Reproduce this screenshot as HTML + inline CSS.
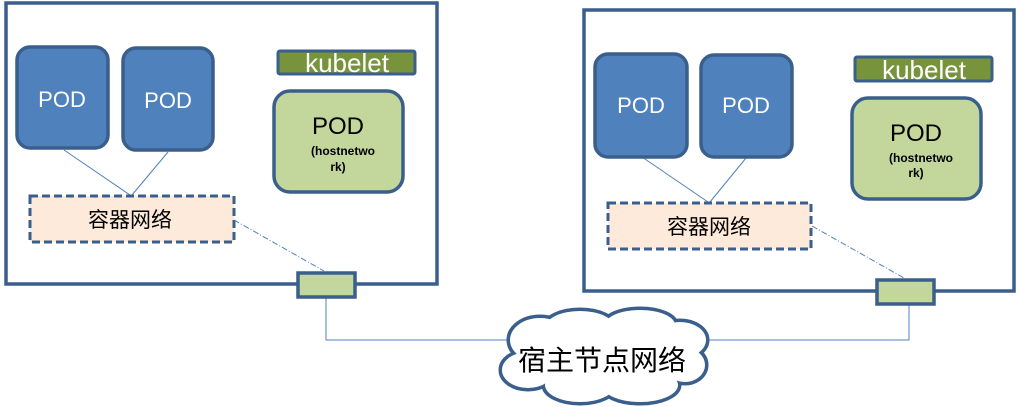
<!DOCTYPE html>
<html><head><meta charset="utf-8"><style>
html,body{margin:0;padding:0;background:#fff;width:1019px;height:407px;overflow:hidden}
text{font-family:"Liberation Sans","Noto Sans CJK SC",sans-serif}
</style></head><body>
<svg width="1019" height="407" viewBox="0 0 1019 407" xmlns="http://www.w3.org/2000/svg">
<g stroke="#3b5f8c" stroke-width="3.5" fill="#fff">
<rect x="6" y="3" width="431" height="281"/>
<rect x="584" y="10" width="430" height="281"/>
</g>
<g stroke="#4f81bd" stroke-width="1" fill="none">
<line x1="64" y1="150" x2="130" y2="195"/>
<line x1="168" y1="152" x2="132" y2="195"/>
<line x1="642" y1="157" x2="708" y2="202"/>
<line x1="746" y1="158" x2="710" y2="202"/>
<polyline points="326,297 326,340 909,340 909,305"/>
<line x1="234" y1="220" x2="324" y2="271" stroke-dasharray="6,2,1,2"/>
<line x1="812" y1="226" x2="904" y2="278" stroke-dasharray="6,2,1,2"/>
</g>
<g stroke="#3b5f8c" stroke-width="3.5" fill="#4f81bd">
<rect x="17" y="47" width="91" height="101" rx="13"/>
<rect x="123" y="48" width="90" height="102" rx="13"/>
<rect x="595" y="54" width="92" height="103" rx="13"/>
<rect x="701" y="55" width="91" height="102" rx="13"/>
</g>
<g fill="#fff" font-size="22" text-anchor="middle">
<text x="62" y="107">POD</text>
<text x="168" y="108">POD</text>
<text x="641" y="113">POD</text>
<text x="746" y="113">POD</text>
</g>
<g stroke="#3b5f8c" stroke-width="3" fill="#77933c">
<rect x="278" y="51" width="137" height="23" rx="2"/>
<rect x="855" y="57" width="137" height="24" rx="2"/>
</g>
<g fill="#fff" font-size="26" text-anchor="middle">
<text x="347" y="72">kubelet</text>
<text x="924" y="79">kubelet</text>
</g>
<g stroke="#3b5f8c" stroke-width="3.5" fill="#c3d69b">
<rect x="274" y="91" width="129" height="101" rx="16"/>
<rect x="852" y="98" width="129" height="101" rx="16"/>
</g>
<g fill="#000" text-anchor="middle">
<text x="338" y="134" font-size="24">POD</text>
<text x="343" y="155" font-size="12" font-weight="bold">(hostnetwo</text>
<text x="338" y="171" font-size="12" font-weight="bold">rk)</text>
<text x="916" y="141" font-size="24">POD</text>
<text x="921" y="162" font-size="12" font-weight="bold">(hostnetwo</text>
<text x="916" y="177" font-size="12" font-weight="bold">rk)</text>
</g>
<g stroke="#3b5f8c" stroke-width="3" fill="#fdeada" stroke-dasharray="8,4">
<rect x="30" y="196" width="204" height="46"/>
<rect x="608" y="203" width="203" height="46"/>
</g>
<g font-size="21" text-anchor="middle" fill="#000">
<text x="130" y="227">容器网络</text>
<text x="709" y="234">容器网络</text>
</g>
<g stroke="#3b5f8c" stroke-width="3.5" fill="#c3d69b">
<rect x="298" y="273" width="57" height="24"/>
<rect x="877" y="280" width="57" height="24"/>
</g>
<g stroke="#3b5f8c" stroke-width="7" fill="#fff">
<ellipse cx="540" cy="340" rx="30" ry="22"/>
<ellipse cx="580" cy="328" rx="35" ry="17"/>
<ellipse cx="640" cy="325" rx="35" ry="15"/>
<ellipse cx="680" cy="340" rx="26" ry="18"/>
<ellipse cx="685" cy="365" rx="20" ry="17"/>
<ellipse cx="640" cy="385" rx="38" ry="17"/>
<ellipse cx="580" cy="385" rx="35" ry="17"/>
<ellipse cx="528" cy="370" rx="26" ry="18"/>
</g>
<g fill="#fff">
<ellipse cx="540" cy="340" rx="30" ry="22"/>
<ellipse cx="580" cy="328" rx="35" ry="17"/>
<ellipse cx="640" cy="325" rx="35" ry="15"/>
<ellipse cx="680" cy="340" rx="26" ry="18"/>
<ellipse cx="685" cy="365" rx="20" ry="17"/>
<ellipse cx="640" cy="385" rx="38" ry="17"/>
<ellipse cx="580" cy="385" rx="35" ry="17"/>
<ellipse cx="528" cy="370" rx="26" ry="18"/>
<ellipse cx="605" cy="357" rx="85" ry="30"/>
</g>
<text x="602" y="370" font-size="28" text-anchor="middle" fill="#000">宿主节点网络</text>
</svg>
</body></html>
